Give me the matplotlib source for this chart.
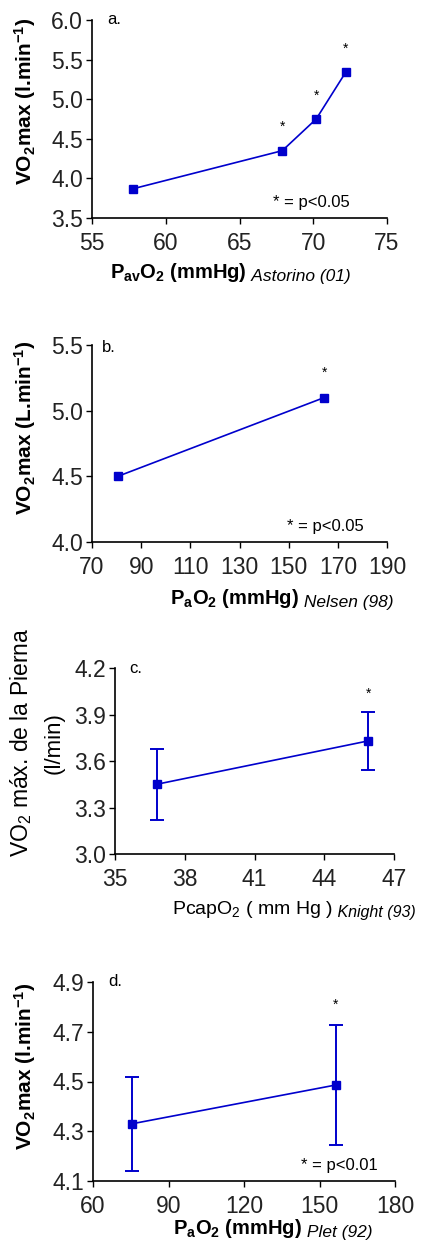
import numpy as np
import matplotlib
matplotlib.use("Agg")
import matplotlib.pyplot as plt

plt.rcParams['font.family'] = ['Liberation Sans', 'DejaVu Sans']
plt.rcParams['mathtext.default'] = 'regular'

# data
a_x = [57.8, 67.9, 70.2, 72.2]
a_y = [3.87, 4.35, 4.75, 5.34]
a_sig = [False, True, True, True]

b_x = [80.5, 164.5]
b_y = [4.50, 5.10]
b_sig = [False, True]

c_x = [36.8, 45.9]
c_y = [3.45, 3.73]
c_err = [0.23, 0.186]
c_sig = [False, True]

d_x = [75.5, 156.5]
d_y = [4.33, 4.486]
d_err = [0.19, 0.24]
d_sig = [False, True]

W, H = 432, 1247
BLUE = "#0000cc"

fig = plt.figure(figsize=(W/100, H/100), dpi=100)

def fx(px):
    return px / W

def fy(py):
    return 1 - py / H

def make_axes(x0, x1, y0, y1, xlim, ylim, xticks, yticks, yfmt):
    ax = fig.add_axes([fx(x0), fy(y1), fx(x1) - fx(x0), (y1 - y0) / H])
    ax.set_xlim(*xlim)
    ax.set_ylim(*ylim)
    ax.set_xticks(xticks)
    ax.set_yticks(yticks)
    ax.set_yticklabels([yfmt % v for v in yticks])
    for s in ["top", "right"]:
        ax.spines[s].set_visible(False)
    for s in ["left", "bottom"]:
        ax.spines[s].set_linewidth(1.2)
    ax.tick_params(axis="both", direction="out", length=4, width=1,
                   labelsize=16.5)
    ax.tick_params(axis="x", pad=6)
    ax.tick_params(axis="y", pad=2.5)
    for lab in ax.get_xticklabels() + ax.get_yticklabels():
        lab.set_color("#222222")
    ax.patch.set_alpha(0)
    return ax

def stars(ax, xs, ys, sig, off):
    for x, y, s in zip(xs, ys, sig):
        if s:
            ax.annotate("*", (x, y), xytext=(0, off), textcoords="offset points",
                        ha="center", va="center", fontsize=10)

def xlabel(px, py, main, cite, weight="bold", size=14.5, csize=12.5):
    t = fig.text(fx(px), fy(py), main, fontsize=size, fontweight=weight,
                 ha="left", va="baseline")
    plt.annotate(" " + cite, xy=(1, 0), xycoords=t, ha="left", va="bottom",
                 fontsize=csize, fontstyle="italic", annotation_clip=False)

# panel a
ax = make_axes(92, 387, 20, 218, (55, 75), (3.5, 6.0),
               [55, 60, 65, 70, 75], [3.5, 4.0, 4.5, 5.0, 5.5, 6.0], "%.1f")
ax.plot(a_x, a_y, color=BLUE, lw=1.2, marker="s", ms=6, mfc=BLUE, mec=BLUE,
        clip_on=False)
stars(ax, a_x, a_y, a_sig, 17)
ax.text(0.05, 1.0, "a.", transform=ax.transAxes, fontsize=12, va="center")
ax.text(0.615, 0.08, "* = p<0.05", transform=ax.transAxes, fontsize=12, va="center")
fig.text(fx(25), fy(101), "VO$_2$max (l.min$^{-1}$)", rotation=90, fontsize=15,
         fontweight="bold", ha="center", va="center")
xlabel(110, 278, "P$_{av}$O$_2$ (mmHg)", "Astorino (01)")

# panel b
ax = make_axes(92, 387, 345, 542, (70, 190), (4.0, 5.5),
               [70, 90, 110, 130, 150, 170, 190], [4.0, 4.5, 5.0, 5.5], "%.1f")
ax.plot(b_x, b_y, color=BLUE, lw=1.2, marker="s", ms=6, mfc=BLUE, mec=BLUE,
        clip_on=False)
stars(ax, b_x, b_y, b_sig, 18)
ax.text(0.035, 0.985, "b.", transform=ax.transAxes, fontsize=12, va="center")
ax.text(0.66, 0.08, "* = p<0.05", transform=ax.transAxes, fontsize=12, va="center")
fig.text(fx(25), fy(428), "VO$_2$max (L.min$^{-1}$)", rotation=90, fontsize=15,
         fontweight="bold", ha="center", va="center")
xlabel(170, 604, "P$_a$O$_2$ (mmHg)", "Nelsen (98)")

# panel c
ax = make_axes(115, 394, 668, 854, (35, 47), (3.0, 4.2),
               [35, 38, 41, 44, 47], [3.0, 3.3, 3.6, 3.9, 4.2], "%.1f")
ax.errorbar(c_x, c_y, yerr=c_err, color=BLUE, lw=1.2, elinewidth=1.4,
            capsize=5, capthick=1.4, marker="s", ms=5.5, mfc=BLUE, mec=BLUE,
            clip_on=False)
stars(ax, c_x, np.add(c_y, c_err), c_sig, 13)
ax.text(0.05, 1.0, "c.", transform=ax.transAxes, fontsize=12, va="center")
fig.text(fx(21), fy(742), "VO$_2$ máx. de la Pierna", rotation=90, fontsize=16.5,
         ha="center", va="center")
fig.text(fx(54), fy(743), "(l/min)", rotation=90, fontsize=16,
         ha="center", va="center")
xlabel(172, 914, "PcapO$_2$ ( mm Hg )", "Knight (93)", weight="normal",
       size=14, csize=11.5)

# panel d
ax = make_axes(93, 395, 982, 1181, (60, 180), (4.1, 4.9),
               [60, 90, 120, 150, 180], [4.1, 4.3, 4.5, 4.7, 4.9], "%.1f")
ax.errorbar(d_x, d_y, yerr=d_err, color=BLUE, lw=1.2, elinewidth=1.4,
            capsize=5, capthick=1.4, marker="s", ms=6, mfc=BLUE, mec=BLUE,
            clip_on=False)
stars(ax, d_x, np.add(d_y, d_err), d_sig, 15)
ax.text(0.05, 1.0, "d.", transform=ax.transAxes, fontsize=12, va="center")
ax.text(0.69, 0.08, "* = p<0.01", transform=ax.transAxes, fontsize=12, va="center")
fig.text(fx(25), fy(1066), "VO$_2$max (l.min$^{-1}$)", rotation=90, fontsize=15,
         fontweight="bold", ha="center", va="center")
xlabel(173, 1234, "P$_a$O$_2$ (mmHg)", "Plet (92)")

fig.savefig("out.png", dpi=100)
